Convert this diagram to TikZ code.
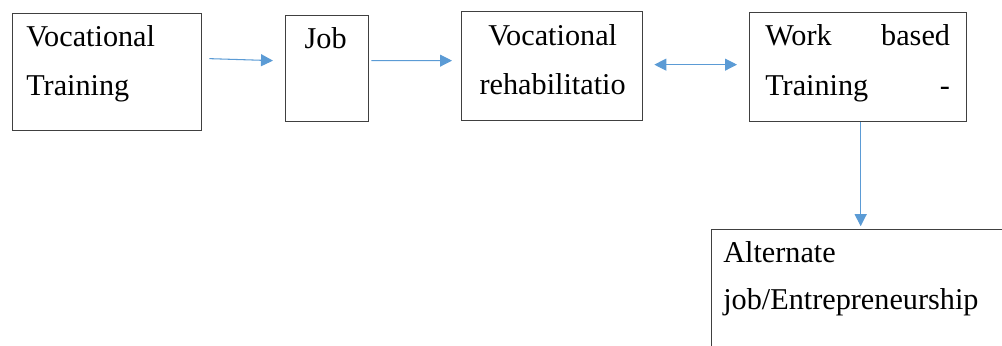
\documentclass[tikz,border=0pt]{standalone}
\usepackage{fontspec}
\setmainfont{Liberation Serif}
\newfontfamily\boxfont{Liberation Serif}
\usetikzlibrary{calc,arrows.meta}
\definecolor{boxline}{HTML}{404040}
\definecolor{flowblue}{HTML}{5B9BD5}
\begin{document}
\begin{tikzpicture}[x=0.025cm, y=-0.025cm,
    box/.style={draw=boxline, line width=0.9pt, inner sep=0pt, anchor=north west},
    txt/.style={inner sep=0pt, font=\boxfont\fontsize{21.5}{25}\selectfont},
    arrow/.style={draw=flowblue, line width=0.75pt, -{Triangle[length=0.3cm, width=0.3cm]}},
    twoway/.style={arrow, {Triangle[length=0.3cm, width=0.3cm]}-{Triangle[length=0.3cm, width=0.3cm]}}]

    % --- Bounding box ---
    \useasboundingbox (0,0) rectangle (1002,346);
    \clip (0,0) rectangle (1002,346);

    % --- Boxes ---
    \node[box, minimum width=4.725cm, minimum height=2.925cm] (vt) at (12,13) {};
    \node[box, minimum width=2.075cm, minimum height=2.65cm] (job) at (285,15) {};
    \node[box, minimum width=4.525cm, minimum height=2.725cm] (vr) at (461,11) {};
    \node[box, minimum width=5.425cm, minimum height=2.725cm] (wbt) at (749,12) {};
    \node[box, minimum width=8cm, minimum height=4cm] (alt) at (711,229) {}; % cut off by the page

    % --- Texts ---
    \node[txt, anchor=base west] (vt1) at ($(vt.north west)+(14,34)$) {Vocational};
    \node[txt, anchor=base west] (vt2) at ($(vt.north west)+(14,83)$) {Training};

    \node[txt, anchor=base] (job1) at ($(job.north)+(-1.5,34)$) {Job};

    \node[txt, anchor=base] (vr1) at ($(vr.north)+(0.5,35)$) {Vocational};
    \node[txt, anchor=base] (vr2) at ($(vr.north)+(0.5,84)$) {rehabilitatio};

    \node[txt, anchor=base west] (wbt1) at ($(wbt.north west)+(16,34)$) {Work};
    \node[txt, anchor=base east] (wbt2) at ($(wbt.north east)+(-17,34)$) {based};
    \node[txt, anchor=base west] (wbt3) at ($(wbt.north west)+(16,84)$) {Training};
    \node[txt, anchor=base east] (wbt4) at ($(wbt.north east)+(-17,84)$) {-};

    \node[txt, anchor=base west] (alt1) at ($(alt.north west)+(12,34)$) {Alternate};
    \node[txt, anchor=base west] (alt2) at ($(alt.north west)+(12,81)$) {job/Entrepreneurship};

    % --- Arrows ---
    \draw[arrow] ($(vt.east)+(7,-13.5)$) -- ($(job.west)+(-12,-8)$);
    \draw[arrow] ($(job.east)+(2,-8)$) -- ($(vr.west)+(-9,-5.5)$);
    \draw[twoway] ($(vr.east)+(11,-1.5)$) -- ($(wbt.west)+(-12,-2.5)$);
    \coordinate (drop) at ($(wbt.south)+(2.5,0)$);
    \draw[arrow, shorten >=2pt] (drop) -- (drop |- alt.north);

\end{tikzpicture}
\end{document}
